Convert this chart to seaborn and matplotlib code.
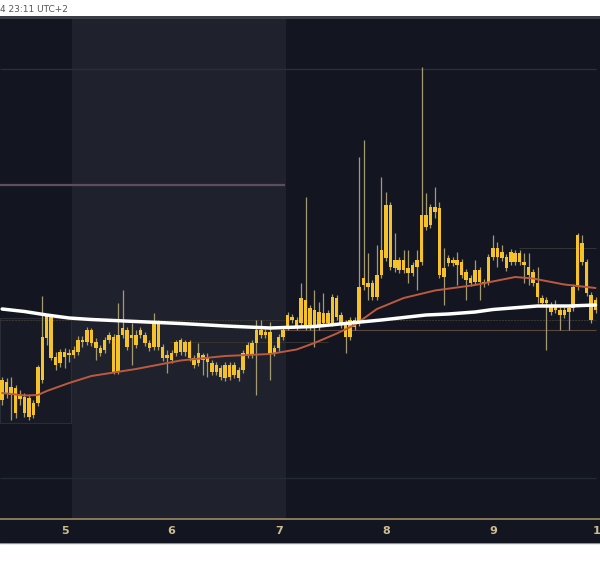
import numpy as np
import pandas as pd
import matplotlib
matplotlib.use("Agg")
import matplotlib.pyplot as plt
import seaborn as sns
from matplotlib.patches import Rectangle
from matplotlib.lines import Line2D

# ---------------- data (hourly candles, price in chart units) ----------------
open_ = [600, 618, 613, 612, 601, 603, 602, 585, 597, 620, 662, 684, 643, 637, 648, 645, 645, 648, 660, 658,
         670, 658, 652, 650, 660, 663, 628, 665, 670, 662, 665, 665, 665, 657, 653, 677, 653, 642, 647, 647,
         660, 648, 658, 642, 637, 645, 642, 637, 628, 632, 622, 635, 625, 630, 630, 645, 645, 657, 670, 665,
         668, 647, 652, 663, 673, 683, 680, 677, 700, 673, 690, 673, 687, 677, 677, 702, 685, 677, 663, 680,
         677, 715, 717, 717, 703, 725, 742, 795, 732, 740, 730, 732, 727, 733, 738, 785, 775, 793, 792, 723,
         737, 740, 740, 738, 728, 722, 718, 730, 718, 718, 743, 752, 742, 743, 738, 747, 738, 738, 733, 728,
         717, 702, 697, 695, 690, 690, 685, 688, 692, 713, 757, 738, 705, 690]
high = [623, 622, 623, 615, 610, 607, 605, 600, 635, 704, 686, 686, 648, 651, 652, 651, 654, 664, 664, 673,
        672, 662, 655, 663, 668, 666, 697, 710, 673, 677, 670, 673, 668, 660, 687, 680, 656, 650, 650, 660,
        662, 660, 660, 645, 657, 647, 647, 640, 638, 635, 638, 638, 638, 633, 650, 658, 660, 680, 680, 671,
        678, 655, 666, 674, 688, 686, 683, 717, 803, 695, 710, 698, 707, 690, 706, 705, 688, 680, 683, 683,
        843, 860, 747, 720, 755, 823, 808, 798, 767, 743, 750, 750, 738, 750, 933, 807, 796, 813, 798, 752,
        745, 743, 748, 741, 731, 725, 740, 733, 721, 746, 765, 758, 755, 746, 751, 750, 750, 747, 747, 731,
        733, 705, 703, 698, 700, 693, 693, 695, 716, 767, 765, 741, 708, 703]
low = [595, 602, 580, 582, 595, 583, 580, 582, 594, 617, 655, 640, 630, 633, 632, 638, 642, 645, 653, 655,
       654, 640, 644, 647, 657, 626, 626, 662, 650, 635, 652, 662, 654, 649, 650, 650, 639, 627, 637, 644,
       645, 644, 639, 632, 634, 625, 623, 625, 625, 620, 619, 620, 622, 619, 627, 642, 642, 605, 662, 662,
       620, 644, 649, 660, 670, 677, 670, 674, 670, 670, 653, 670, 674, 674, 674, 680, 672, 647, 660, 670,
       674, 710, 700, 700, 700, 722, 739, 730, 728, 727, 727, 717, 724, 710, 735, 770, 772, 782, 722, 695,
       734, 734, 715, 722, 700, 714, 715, 700, 713, 715, 740, 733, 739, 729, 735, 735, 735, 717, 715, 714,
       697, 694, 650, 685, 687, 670, 682, 670, 689, 710, 735, 704, 677, 687]
close = [620, 607, 605, 587, 605, 587, 583, 597, 633, 663, 684, 642, 635, 648, 643, 647, 650, 660, 658, 670,
         657, 652, 647, 660, 665, 628, 665, 672, 653, 665, 655, 670, 657, 652, 677, 653, 642, 645, 640, 658,
         648, 658, 642, 635, 647, 640, 638, 628, 635, 623, 635, 623, 635, 622, 647, 655, 657, 670, 665, 668,
         647, 652, 663, 670, 685, 680, 673, 702, 673, 692, 672, 688, 677, 687, 703, 683, 675, 663, 680, 673,
         713, 722, 713, 703, 725, 750, 795, 733, 740, 730, 740, 727, 735, 740, 785, 773, 793, 788, 725, 732,
         742, 737, 735, 725, 720, 717, 730, 718, 716, 743, 752, 743, 748, 732, 748, 738, 747, 735, 725, 717,
         703, 697, 700, 688, 695, 685, 690, 692, 713, 765, 738, 707, 680, 700]
first_hour = 10  # first candle opens on day 4 at 10:00

# moving averages (candle index, value)
slow_ma_idx = [0, 5, 10, 15, 20, 30, 40, 50, 55, 60, 70, 78, 85, 90, 95, 100, 106, 110, 120, 127, 133]
slow_ma_val = [691, 688.5, 685, 682, 680.5, 678.5, 676.5, 674, 673, 672, 673.5, 677, 680, 682.5, 685, 686,
               688, 690.5, 694, 694, 695]
fast_ma_idx = [0, 5, 8, 10, 15, 20, 30, 40, 50, 60, 66, 70, 75, 79, 84, 90, 97, 106, 115, 119, 126, 133]
fast_ma_val = [607, 604.5, 605, 609, 617, 624, 631, 639.5, 644, 646, 650.5, 657, 666.5, 675, 691, 702,
               709.5, 715, 723, 721.5, 715.5, 712]

day_ticks = [5, 6, 7, 8, 9, 10]
day_labels = ["5", "6", "7", "8", "9", "10"]
header_text = "4 23:11 UTC+2"

# ---------------- styling ----------------
BG = "#131621"
SHADE = "#1f222d"
GOLD = "#f5c22a"
WICK = "#a39a72"
W, H = 600, 566

sns.set_theme(style="dark", rc={"axes.facecolor": BG, "figure.facecolor": "white"})
plt.rcParams["font.family"] = ["DejaVu Sans"]

fig = plt.figure(figsize=(W / 100, H / 100), dpi=100)

def fy(py):  # pixel-from-top -> figure fraction
    return (H - py) / H

# top gray rule and bottom axis strip (drawn beneath the axes)
fig.patches.append(Rectangle((0, fy(19)), 1, fy(16.5) - fy(19), transform=fig.transFigure,
                             facecolor="#3a3d46", edgecolor="none", zorder=-1))
fig.patches.append(Rectangle((0, fy(543)), 1, fy(519) - fy(543), transform=fig.transFigure,
                             facecolor=BG, edgecolor="none", zorder=-1))
fig.lines.append(Line2D([0, 1], [fy(542.5), fy(542.5)], transform=fig.transFigure,
                        color="#8d8f96", linewidth=1.0, zorder=-1))
fig.text(0.0, fy(9), header_text, ha="left", va="center", fontsize=6.5, color="#555555")

ax = fig.add_axes([0, fy(519), 1, fy(19) - fy(519)])
ax.set_facecolor(BG)
ax.set_zorder(1)

x_left = 5 - 65 / 107.75
x_right = x_left + W / 107.75
ax.set_xlim(x_left, x_right)
ax.set_ylim(481, 981)

def px2day(p):
    return x_left + p / 107.75

# shaded session band
ax.axvspan(px2day(72), px2day(287.5), color=SHADE, zorder=0, linewidth=0)
# left box
ax.add_patch(Rectangle((x_left, 577), px2day(71) - x_left, 682 - 577, facecolor="#171a25",
                       edgecolor="#2a2d38", linewidth=0.8, zorder=0.5))

# level lines
ax.hlines(931, x_left, x_right, color="#2b2e38", linewidth=1.0, zorder=1)
ax.hlines(522, x_left, x_right, color="#262a34", linewidth=1.0, zorder=1)
ax.hlines(815, x_left, px2day(287), color="#5e4c60", linewidth=1.6, zorder=1)
ax.hlines(680, x_left, x_right, color="#3d3a32", linewidth=0.7, linestyles=(0, (2, 1)), zorder=1)
ax.hlines(658, px2day(170), px2day(330), color="#35342f", linewidth=0.7, zorder=1)
ax.hlines(670, px2day(282), x_right, color="#5a463c", linewidth=0.8, zorder=1)
ax.hlines(752, px2day(522), x_right, color="#35343a", linewidth=0.7, zorder=1)

# candles
n = len(open_)
t = 4 + (first_hour + np.arange(n)) / 24
df = pd.DataFrame({"t": t, "open": open_, "high": high, "low": low, "close": close})
body_lo = df[["open", "close"]].min(axis=1)
body_h = (df["close"] - df["open"]).abs().clip(lower=2)
ax.vlines(df["t"], df["low"], df["high"], color=WICK, linewidth=0.9, zorder=3)
ax.bar(df["t"], body_h, bottom=body_lo, width=0.78 / 24, color=GOLD, linewidth=0, zorder=4)

# moving averages
ma_slow = pd.DataFrame({"t": 4 + (first_hour + np.array(slow_ma_idx)) / 24, "v": slow_ma_val})
ma_fast = pd.DataFrame({"t": 4 + (first_hour + np.array(fast_ma_idx)) / 24, "v": fast_ma_val})
sns.lineplot(data=ma_fast, x="t", y="v", ax=ax, color="#bd5a3e", linewidth=1.4, estimator=None,
             sort=True, zorder=5)
sns.lineplot(data=ma_slow, x="t", y="v", ax=ax, color="#ffffff", linewidth=2.5, estimator=None,
             sort=True, zorder=6)

# axes decoration
for s in ["top", "left", "right"]:
    ax.spines[s].set_visible(False)
ax.spines["bottom"].set_visible(True)
ax.spines["bottom"].set_color("#9c8a60")
ax.spines["bottom"].set_linewidth(1.2)
ax.set_xticks(day_ticks)
ax.set_xticklabels(day_labels, fontsize=8, fontweight="bold", color="#cdbd92")
ax.tick_params(axis="x", length=0, pad=5)
ax.set_yticks([])
ax.set_xlabel("")
ax.set_ylabel("")
ax.grid(False)

fig.savefig("out.png", dpi=100, facecolor="white")
